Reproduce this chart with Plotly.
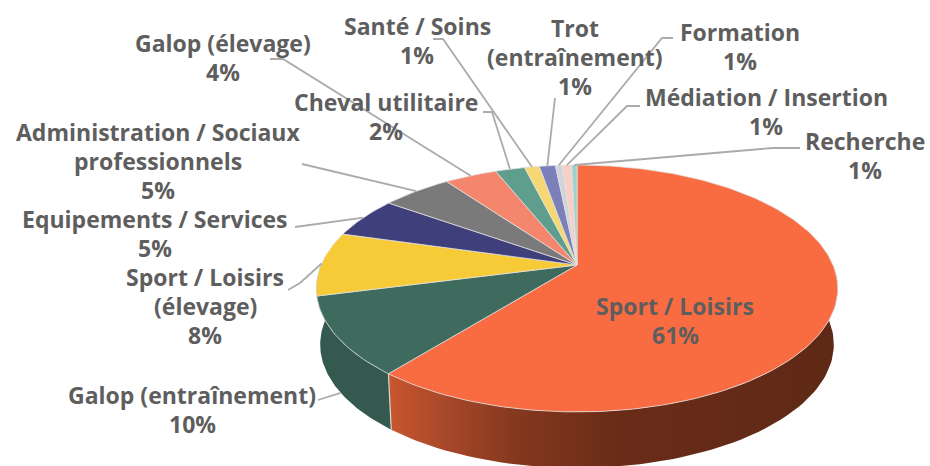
import numpy as np
import plotly.graph_objects as go

# ---- data ----
categories = ["Sport / Loisirs", "Galop (entraînement)", "Sport / Loisirs (élevage)",
              "Equipements / Services", "Administration / Sociaux professionnels",
              "Galop (élevage)", "Cheval utilitaire", "Santé / Soins",
              "Trot (entraînement)", "Formation", "Médiation / Insertion", "Recherche"]
# slice widths (percent of the disc)
shares = [60.8, 10.2, 8.4, 5.4, 5.2, 3.9, 2.2, 1.1, 1.2, 0.5, 0.7, 0.4]
# percentages as printed
percent_labels = ["61%", "10%", "8%", "5%", "5%", "4%", "2%", "1%", "1%", "1%", "1%", "1%"]
name_lines = [["Sport / Loisirs"], ["Galop (entraînement)"], ["Sport / Loisirs", "(élevage)"],
              ["Equipements / Services"], ["Administration / Sociaux", "professionnels"],
              ["Galop (élevage)"], ["Cheval utilitaire"], ["Santé / Soins"],
              ["Trot", "(entraînement)"], ["Formation"], ["Médiation / Insertion"], ["Recherche"]]

# ---- style and layout ----
colors = ["#F96C42", "#3F6B5F", "#F7CB37", "#3F3F7C", "#7A7A7A", "#F4866E",
          "#5F9E8D", "#F5D873", "#7B7FBA", "#D3D3DC", "#F7CFC4", "#9DD0D0"]
label_x = [675, 192, 205, 155, 158, 223, 386, 417, 575, 740, 766, 865]
label_y = [306, 395, 277, 219, 132, 43, 102, 26, 28, 32, 97, 141]
line_step = 29
# start of each leader (label side), None when there is no leader
leader_start = [None, [(318, 400)], [(288, 290), (300, 283)], [(295, 227)], [(302, 164)],
                [(270, 59), (283, 59)], [(483, 112), (492, 112)], [(433, 39), (443, 39)],
                [(555, 98)], [(673, 38), (662, 38)], [(640, 106), (627, 106)],
                [(800, 148), (773, 148)]]

TX, TY = 577, 265      # apex of the top face
BX, AY, K = 256, 119, 0.19   # perspective of the disc
DEPTH, SHRINK = 56, 0.985
TEXT = "#5E5E5E"
FONT = "Open Sans"


def rim(percent):
    t = np.asarray(percent, dtype=float) / 100 * 2 * np.pi
    u, v = np.sin(t), np.cos(t)
    w = 1 + K * v
    return TX + BX * u / w, TY - AY * v / w


def low(x, y):
    return TX + (np.asarray(x) - TX) * SHRINK, np.asarray(y) + DEPTH


cum = np.concatenate([[0], np.cumsum(shares)])
cum = cum / cum[-1] * 100
fig = go.Figure()


def side(a, b, **kw):
    p = np.linspace(a, b, 80)
    x, y = rim(p)
    lx, ly = low(x, y)
    fig.add_trace(go.Scatter(x=np.r_[x, lx[::-1]], y=np.r_[y, ly[::-1]], mode="lines", fill="toself",
                             line=dict(width=0), hoverinfo="skip", showlegend=False, **kw))


# visible wall: the big slice and the next one
side(25, cum[1], fillcolor="#6B2C18",
     fillgradient=dict(type="horizontal", start=390, stop=840,
                       colorscale=[[0, "#C8562F"], [0.12, "#A9482A"], [0.27, "#86391F"],
                                   [0.5, "#6A2C18"], [1, "#5E2916"]]))
side(cum[1], 75, fillcolor="#345A50")

# seam between the two wall pieces
sx, sy = rim(cum[1])
lx, ly = low(sx, sy)
fig.add_trace(go.Scatter(x=[sx, lx], y=[sy, ly], mode="lines", line=dict(color="#D8D8D8", width=1.2),
                         hoverinfo="skip", showlegend=False))

# top face
for i, c in enumerate(colors):
    n = max(4, int(shares[i] * 3))
    x, y = rim(np.linspace(cum[i], cum[i + 1], n))
    fig.add_trace(go.Scatter(x=np.r_[TX, x, TX], y=np.r_[TY, y, TY], mode="lines", fill="toself",
                             fillcolor=c, line=dict(color="rgba(225,225,225,0.75)", width=1),
                             hoverinfo="skip", showlegend=False))

# leaders, ending on the middle of each slice's rim
for i, start in enumerate(leader_start):
    if start is None:
        continue
    ex, ey = rim((cum[i] + cum[i + 1]) / 2)
    if i == 1:  # this one lands on the wall foot
        ex, ey = low(ex, ey)
    xs = [p[0] for p in start] + [float(ex)]
    ys = [p[1] for p in start] + [float(ey)]
    fig.add_trace(go.Scatter(x=xs, y=ys, mode="lines", line=dict(color="#ABABAB", width=1.8),
                             hoverinfo="skip", showlegend=False))

# labels
annotations = []
for i, lines in enumerate(name_lines):
    for j, txt in enumerate(lines + [percent_labels[i]]):
        annotations.append(dict(x=label_x[i], y=label_y[i] + j * line_step, text=f"<b>{txt}</b>",
                                showarrow=False, xanchor="center", yanchor="middle",
                                font=dict(family=FONT, size=23, color=TEXT)))

fig.update_layout(width=930, height=466, margin=dict(l=0, r=0, t=0, b=0),
                  paper_bgcolor="white", plot_bgcolor="white", annotations=annotations,
                  showlegend=False,
                  xaxis=dict(range=[0, 930], visible=False, fixedrange=True),
                  yaxis=dict(range=[466, 0], visible=False, fixedrange=True))

fig.write_html("out.html", config=dict(displayModeBar=False),
               post_script="document.body.style.margin='0';document.documentElement.style.overflow='hidden';")
